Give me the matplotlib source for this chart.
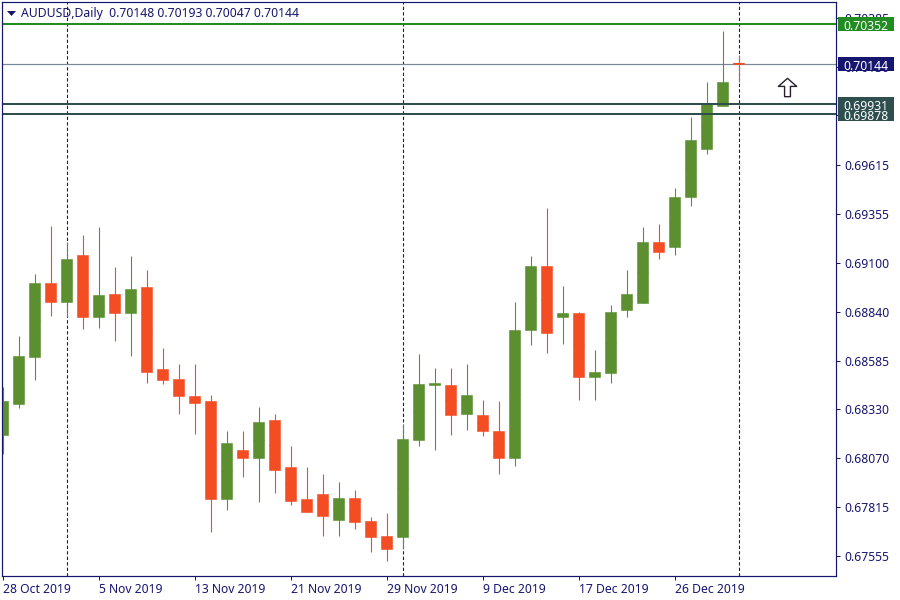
import matplotlib
matplotlib.use("Agg")
import matplotlib.pyplot as plt
from matplotlib.path import Path
from matplotlib.patches import Rectangle
from matplotlib.transforms import blended_transform_factory

plt.rcParams['font.family'] = ['Noto Sans', 'DejaVu Sans']

opens = [0.68196, 0.68359, 0.68606, 0.68990, 0.68890, 0.69142, 0.68811, 0.68932, 0.68832, 0.68969,
         0.68538, 0.68490, 0.68401, 0.68370, 0.67855, 0.68117, 0.68070, 0.68270, 0.68023, 0.67855,
         0.67886, 0.67749, 0.67860, 0.67744, 0.67665, 0.67660, 0.68165, 0.68454, 0.68454, 0.68306,
         0.68296, 0.68217, 0.68070, 0.68743, 0.69079, 0.68811, 0.68837, 0.68496, 0.68517, 0.68848,
         0.68885, 0.69210, 0.69184, 0.69442, 0.69699, 0.69925, 0.70148]
highs = [0.68448, 0.68716, 0.69042, 0.69294, 0.69210, 0.69247, 0.69284, 0.69074, 0.69132, 0.69063,
         0.68653, 0.68569, 0.68564, 0.68406, 0.68217, 0.68217, 0.68343, 0.68306, 0.68138, 0.68023,
         0.67986, 0.67944, 0.67902, 0.67765, 0.67786, 0.68249, 0.68617, 0.68543, 0.68543, 0.68569,
         0.68380, 0.68370, 0.68895, 0.69132, 0.69384, 0.68974, 0.68842, 0.68638, 0.68879, 0.69063,
         0.69284, 0.69300, 0.69489, 0.69867, 0.70046, 0.70319, 0.70193]
lows = [0.68096, 0.68338, 0.68480, 0.68821, 0.68811, 0.68748, 0.68758, 0.68685, 0.68611, 0.68469,
        0.68459, 0.68306, 0.68201, 0.67686, 0.67797, 0.67975, 0.67839, 0.67891, 0.67828, 0.67791,
        0.67665, 0.67665, 0.67702, 0.67576, 0.67529, 0.67597, 0.68138, 0.68117, 0.68196, 0.68222,
        0.68186, 0.67991, 0.68033, 0.68664, 0.68627, 0.68674, 0.68375, 0.68375, 0.68469, 0.68816,
        0.68885, 0.69116, 0.69137, 0.69399, 0.69668, 0.69920, 0.70047]
closes = [0.68370, 0.68611, 0.68990, 0.68895, 0.69116, 0.68816, 0.68927, 0.68832, 0.68963, 0.68522,
          0.68485, 0.68396, 0.68364, 0.67855, 0.68154, 0.68075, 0.68264, 0.68012, 0.67849, 0.67791,
          0.67770, 0.67860, 0.67734, 0.67660, 0.67597, 0.68170, 0.68459, 0.68469, 0.68296, 0.68406,
          0.68217, 0.68075, 0.68743, 0.69084, 0.68727, 0.68837, 0.68496, 0.68522, 0.68842, 0.68937,
          0.69210, 0.69153, 0.69442, 0.69746, 0.69936, 0.70046, 0.70144]

date_tick_idx = [0, 6, 12, 18, 24, 30, 36, 42]
date_labels = ['28 Oct 2019', '5 Nov 2019', '13 Nov 2019', '21 Nov 2019',
               '29 Nov 2019', '9 Dec 2019', '17 Dec 2019', '26 Dec 2019']
price_ticks = [0.67555, 0.67815, 0.68070, 0.68330, 0.68585, 0.68840,
               0.69100, 0.69355, 0.69615, 0.69875, 0.70130, 0.70385]
period_sep_idx = [4, 25, 46]
level_green = 0.70352
level_bid = 0.70144
levels_dark = [0.69878, 0.69931]
arrow_idx = 49
arrow_price = 0.70022
title = 'AUDUSD,Daily  0.70148 0.70193 0.70047 0.70144'

NAVY = '#17166E'
UP = '#5B8F2F'
DOWN = '#F44D24'
FOREST = '#228B22'
SLATE = '#2F4F4F'
GRAY = '#778899'
PX = 72 / 100
FS = 8.78
XOFF = 0.0

fig = plt.figure(figsize=(9, 6), dpi=100, facecolor='white')
L, R, T, B = 2.0, 836.0, 2.0, 576.0
ax = fig.add_axes([L / 900, 1 - B / 600, (R - L) / 900, (B - T) / 600])
ax.set_xlim(-0.05, 52.08)
ax.set_ylim(0.674525, 0.70469)

for i in period_sep_idx:
    ax.axvline(i + XOFF, color=NAVY, lw=PX * 1.1, ls=(0, (3, 2)), zorder=1)
ax.axhline(level_bid, color=GRAY, lw=PX * 1.2, zorder=1.2)

for i, (o, h, l, c) in enumerate(zip(opens, highs, lows, closes)):
    col = UP if c >= o else DOWN
    ax.vlines(i + XOFF, l, h, color=col, lw=PX * 1.1, zorder=2)
    ax.bar(i + XOFF, abs(c - o), bottom=min(o, c), width=0.665, color=col,
           edgecolor=col, linewidth=0.4, zorder=2.1)
    ax.hlines((o + c) / 2, i + XOFF - 0.33, i + XOFF + 0.33, color=col, lw=PX * 1.1, zorder=2.2)

ax.axhline(level_green, color=FOREST, lw=PX * 2, zorder=3)
for lv in levels_dark:
    ax.axhline(lv, color=SLATE, lw=PX * 2, zorder=3)

arrow = Path([(-0.32, -1), (-0.32, 0.12), (-1, 0.12), (0, 1), (1, 0.12),
              (0.32, 0.12), (0.32, -1), (-0.32, -1)], closed=True)
ax.plot([arrow_idx], [arrow_price], marker=arrow, ms=13.2, mfc='white',
        mec='#2a2030', mew=1.0, ls='none', zorder=4)

for sp in ax.spines.values():
    sp.set_color(NAVY)
    sp.set_linewidth(PX * 1.2)
ax.spines['left'].set_zorder(6)

ax.set_xticks([i + XOFF for i in date_tick_idx])
ax.set_xticklabels(date_labels, ha='left')
ax.set_yticks(price_ticks)
ax.set_yticklabels([f'{p:.5f}' for p in price_ticks])
ax.yaxis.tick_right()
ax.tick_params(axis='x', length=3.2, width=PX, color=NAVY, labelcolor=NAVY,
               labelsize=FS, pad=1.6)
ax.tick_params(axis='y', length=3.2, width=PX, color=NAVY, labelcolor=NAVY,
               labelsize=FS, pad=2.5)

tf = blended_transform_factory(ax.transAxes, ax.transData)
box_x0 = (838 - L) / (R - L)
box_w = 56 / (R - L)
half_h = 7 * 5.255e-5
boxes = [(level_green, FOREST), (level_bid, NAVY),
         (levels_dark[0], SLATE), (levels_dark[1], SLATE)]
for k, (val, col) in enumerate(boxes):
    ax.add_patch(Rectangle((box_x0, val - half_h), box_w, 2 * half_h, transform=tf,
                           facecolor=col, edgecolor='none', clip_on=False, zorder=7 + k))
    ax.text(box_x0 + 5 / (R - L), val - 1 * 5.255e-5, f'{val:.5f}', transform=tf, color='white',
            fontsize=FS, va='center_baseline', ha='left', clip_on=False, zorder=7 + k)

tri = Path([(-1, 0.55), (1, 0.55), (0, -0.55), (-1, 0.55)], closed=True)
ax.plot([(10.5 - L) / (R - L)], [1 - (12.5 - T) / (B - T)], marker=tri, ms=6.5, color=NAVY,
        mew=0, transform=ax.transAxes, clip_on=False, zorder=8)
ax.text(19 / (R - L), 1 - 10.2 / (B - T), title, transform=ax.transAxes, color=NAVY,
        fontsize=FS, va='center_baseline', ha='left', zorder=8)

fig.savefig('out.png', dpi=100, facecolor='white')
